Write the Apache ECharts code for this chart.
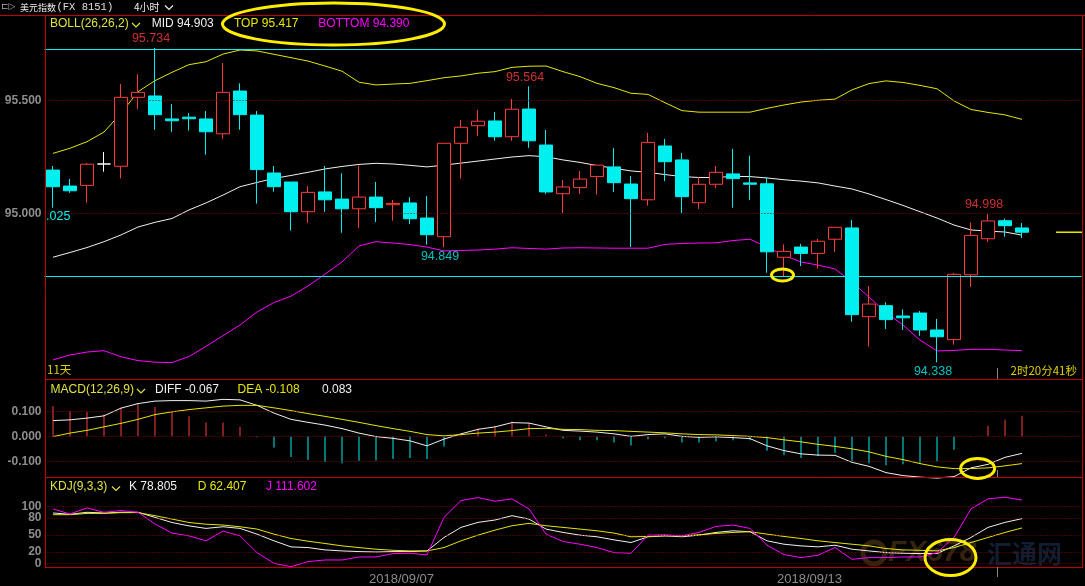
<!DOCTYPE html>
<html><head><meta charset="utf-8">
<script src="https://cdn.jsdelivr.net/npm/echarts@6/dist/echarts.min.js"></script>
<style>html,body{margin:0;padding:0;background:#000;}#c{width:1085px;height:586px;}</style>
</head><body><div id="c"></div>
<script>
// ---------- DATA ----------
const slotCount = 61; // 58 candles + 3 empty slots on the right
const opens  = [95.192,95.121,95.124,95.219,95.209,95.515,95.521,95.419,95.427,95.419,95.353,95.543,95.436,95.179,95.139,95.007,95.095,95.063,95.020,95.072,95.038,95.046,94.979,94.896,95.311,95.389,95.410,95.340,95.463,95.303,95.087,95.114,95.163,95.206,95.130,95.060,95.299,95.237,95.047,95.129,95.175,95.135,95.131,94.805,94.850,94.822,94.885,94.935,94.541,94.590,94.544,94.557,94.482,94.439,94.727,94.887,94.967,94.935];
const closes = [95.118,95.100,95.218,95.219,95.515,95.537,95.438,95.411,95.420,95.362,95.537,95.438,95.194,95.118,95.007,95.093,95.060,95.020,95.072,95.025,95.044,94.976,94.905,95.311,95.382,95.409,95.340,95.462,95.322,95.095,95.117,95.152,95.214,95.136,95.065,95.315,95.229,95.074,95.129,95.182,95.154,95.129,94.829,94.831,94.822,94.876,94.938,94.550,94.597,94.528,94.536,94.482,94.452,94.729,94.902,94.966,94.945,94.916];
const lows   = [95.025,95.091,95.047,95.185,95.155,95.464,95.371,95.362,95.367,95.260,95.331,95.371,95.043,95.096,94.923,94.958,95.007,94.914,94.936,94.961,94.967,94.952,94.861,94.849,95.154,95.343,95.322,95.322,95.291,95.086,95.001,95.086,95.083,95.095,94.850,95.034,95.143,95.001,95.020,95.112,95.025,95.059,94.736,94.718,94.766,94.754,94.829,94.519,94.408,94.486,94.482,94.456,94.338,94.417,94.674,94.873,94.896,94.890];
const highs  = [95.210,95.152,95.223,95.272,95.574,95.618,95.734,95.485,95.445,95.454,95.667,95.577,95.454,95.210,95.139,95.121,95.210,95.178,95.210,95.139,95.059,95.072,95.077,95.311,95.414,95.459,95.450,95.508,95.564,95.370,95.148,95.188,95.214,95.290,95.166,95.357,95.330,95.268,95.161,95.210,95.286,95.256,95.161,94.862,94.864,94.886,94.938,94.970,94.677,94.605,94.574,94.566,94.531,94.735,94.960,94.998,94.976,94.957];

const bollUpper = [95.266,95.289,95.318,95.361,95.444,95.540,95.589,95.626,95.660,95.673,95.707,95.725,95.721,95.706,95.691,95.676,95.654,95.631,95.582,95.570,95.574,95.577,95.589,95.602,95.610,95.622,95.629,95.648,95.653,95.654,95.629,95.607,95.577,95.558,95.533,95.528,95.491,95.456,95.449,95.449,95.449,95.449,95.466,95.481,95.494,95.502,95.507,95.548,95.576,95.588,95.581,95.568,95.553,95.499,95.461,95.448,95.437,95.417];
const bollMid   = [94.805,94.826,94.848,94.874,94.904,94.939,94.960,94.977,95.015,95.046,95.081,95.118,95.137,95.155,95.168,95.182,95.197,95.208,95.217,95.222,95.219,95.213,95.206,95.214,95.223,95.232,95.241,95.250,95.256,95.251,95.237,95.226,95.212,95.200,95.188,95.182,95.172,95.163,95.159,95.159,95.164,95.163,95.157,95.149,95.143,95.135,95.121,95.108,95.086,95.061,95.035,95.007,94.979,94.948,94.926,94.921,94.917,94.903];
const bollLower = [94.349,94.371,94.384,94.390,94.363,94.346,94.339,94.337,94.364,94.409,94.457,94.504,94.562,94.604,94.632,94.677,94.730,94.784,94.855,94.874,94.868,94.861,94.850,94.833,94.835,94.837,94.841,94.847,94.844,94.841,94.846,94.847,94.846,94.845,94.845,94.845,94.862,94.866,94.868,94.869,94.879,94.885,94.850,94.813,94.784,94.770,94.753,94.695,94.628,94.560,94.504,94.437,94.389,94.391,94.396,94.396,94.393,94.390];

const macdDiff = [0.064,0.067,0.074,0.083,0.114,0.132,0.142,0.144,0.144,0.142,0.149,0.147,0.125,0.094,0.069,0.057,0.046,0.032,0.014,0.000,-0.007,-0.017,-0.037,-0.010,0.011,0.029,0.039,0.056,0.054,0.039,0.025,0.022,0.018,0.011,0.001,0.008,0.011,0.001,-0.003,-0.001,-0.004,-0.008,-0.037,-0.056,-0.069,-0.074,-0.075,-0.103,-0.119,-0.144,-0.156,-0.162,-0.166,-0.160,-0.125,-0.111,-0.083,-0.067];
const macdDea  = [0.000,0.014,0.025,0.039,0.053,0.069,0.088,0.099,0.108,0.115,0.122,0.125,0.125,0.115,0.104,0.092,0.081,0.069,0.057,0.044,0.032,0.021,0.008,0.003,0.008,0.014,0.018,0.024,0.032,0.033,0.029,0.028,0.025,0.024,0.021,0.018,0.015,0.011,0.008,0.007,0.004,0.001,-0.004,-0.013,-0.021,-0.031,-0.039,-0.049,-0.061,-0.079,-0.092,-0.108,-0.121,-0.128,-0.128,-0.125,-0.117,-0.108];
const macdHist = [0.122,0.101,0.099,0.089,0.115,0.133,0.118,0.099,0.081,0.056,0.056,0.039,-0.003,-0.044,-0.082,-0.094,-0.101,-0.107,-0.097,-0.096,-0.090,-0.086,-0.090,-0.040,0.004,0.032,0.042,0.060,0.053,0.008,-0.007,-0.015,-0.015,-0.024,-0.036,-0.011,-0.007,-0.024,-0.024,-0.019,-0.015,-0.015,-0.057,-0.074,-0.086,-0.078,-0.065,-0.099,-0.107,-0.115,-0.111,-0.107,-0.099,-0.053,0.002,0.043,0.068,0.083];

const kdjK = [88.8,86.4,90,88.8,90,90,81,72,66,61.6,64.5,61.6,51.5,39.7,29,27.8,23.7,21.9,20.7,20,20.7,20.7,21.9,45.6,63.4,72.2,76.4,84,78,60.4,54.5,49.7,46.8,41.4,36.7,46.8,48.5,46.8,49.7,54.5,57.4,55.7,39.7,33.7,30.8,29,32,24.9,21.9,18.9,17.8,17.2,17.2,30.8,45.6,63.4,72.2,78.805];
const kdjD = [85.8,85.8,88,88,89.4,89.4,84,78,72,69,67.5,64.5,60.4,51.5,43.8,39,35,30.8,27.8,24.9,23,21.9,21.9,27.8,39.7,49.7,58.6,66.3,70.5,66.3,63.4,60.4,57.4,53.3,46.8,47.4,48.5,48.5,50.3,52.7,54.5,55.7,51.5,47.4,43.8,39.7,36.7,33.7,30.8,26.1,23.7,23,21.9,27.8,36.7,45.6,54.5,62.407];
const kdjJ = [95.9,87,97.7,90,93,90,69.3,53.3,48.5,39.7,56.8,48.5,18.9,0,-5.9,3,5.9,5.9,11.2,11.2,17.2,17.8,14.8,81.1,110.7,116,109.5,113.7,95.9,51.5,38.5,33.7,27.8,18.9,17.8,49.7,50.3,48.5,54.5,65.1,67.5,61.6,32,15.4,10.1,14.2,27.8,7.1,10.1,10.1,11.2,11.2,18.9,45.6,95.9,113.7,116.6,111.602];

const priceTicks = [95.0, 95.5];
const macdTicks  = [-0.1, 0, 0.1];
const kdjTicks   = [0, 20, 50, 80, 100];
const dateLabels = ['2018/09/07', '2018/09/13'];
const dateLabelIndex = [20, 44];
const highMarkIdx = [6, 28, 55];
const lowMarkIdx  = [23, 52];
const levelLines  = [95.734, 94.720];

// ---------- STYLE ----------
const RED = '#ff3c3c', CYAN = '#00f0f0', YEL = '#e6e600', MAG = '#ff00ff', WHITE = '#f0f0f0';
const BORDER = '#c00000', GRID = '#8a0000', AXIS = '#8c8c8c';
const LAT = '"Liberation Sans", Arial, sans-serif';
const CJK = '"Noto Sans CJK SC", sans-serif';
const DOTS = [1, 2];

const cats = Array.from({length: slotCount}, (_, i) => String(i));
const last = a => a[a.length - 1];
const fmt3 = v => v.toFixed(3);

const chart = echarts.init(document.getElementById('c'));

const G0 = {left: 44.5, top: 48, width: 1037, height: 314.4};
const G1 = {left: 44.5, top: 394.1, width: 1037, height: 85};
const G2 = {left: 44.5, top: 492.45, width: 1037, height: 78.57};

const tickLabelStyle = {color: AXIS, fontWeight: 'bold', fontSize: 12, fontFamily: LAT};

// dotted grid lines; optionally carrying their own left-side tick labels
function gridLines(vals, withLabels) {
  return { symbol: 'none', silent: true, animation: false,
    label: withLabels ? Object.assign({show: true, position: 'start', distance: 3, formatter: p => String(p.value)}, tickLabelStyle) : {show: false},
    lineStyle: {color: GRID, type: DOTS, width: 1},
    data: vals.map(v => ({yAxis: v})) };
}
function yAx(gi, min, max, ticks, f) {
  return { type: 'value', gridIndex: gi, min, max, scale: true,
    axisLine: {show: false}, axisTick: {show: false}, splitLine: {show: false},
    axisLabel: ticks ? Object.assign({customValues: ticks, formatter: f, margin: 3}, tickLabelStyle) : {show: false} };
}
function xAx(gi, showLabel) {
  return { type: 'category', gridIndex: gi, data: cats, boundaryGap: true,
    axisLine: {show: false}, axisTick: {show: false}, splitLine: {show: false},
    axisLabel: showLabel ? {
      interval: 0, color: AXIS, fontSize: 13, fontFamily: LAT, margin: 4, padding: [0, 0, 0, 17],
      formatter: (v, idx) => { const k = dateLabelIndex.indexOf(idx); return k >= 0 ? dateLabels[k] : ''; }
    } : {show: false} };
}
function line(data, color, xi, yi, z) {
  return { type: 'line', xAxisIndex: xi, yAxisIndex: yi, data, symbol: 'none', showSymbol: false,
    lineStyle: {color, width: 1}, z: z || 3, silent: true };
}
function T(x, y, text, fill, font, align) {
  return { type: 'text', z: 50, style: {x, y, text, fill, font, textAlign: align || 'left', textVerticalAlign: 'middle'} };
}
function chevron(x, y, color) {
  return { type: 'polyline', z: 50, shape: {points: [[x, y - 2.5], [x + 4, y + 1.5], [x + 8, y - 2.5]]}, style: {stroke: color, lineWidth: 1.2, fill: 'none'} };
}
function hline(x1, x2, y, color, w) {
  return { type: 'line', z: 40, shape: {x1, y1: y, x2, y2: y}, style: {stroke: color, lineWidth: w || 1} };
}
function vline(x, y1, y2, color, w) {
  return { type: 'line', z: 40, shape: {x1: x, y1, x2: x, y2}, style: {stroke: color, lineWidth: w || 1} };
}
function ell(cx, cy, rx, ry) {
  return { type: 'ellipse', z: 45, shape: {cx, cy, rx, ry}, style: {fill: 'none', stroke: '#ffee00', lineWidth: 3} };
}

const markData = highMarkIdx.map(i => ({value: [i, highs[i]], label: {position: 'top', color: RED}}))
  .concat(lowMarkIdx.map(i => ({value: [i, lows[i]], label: {position: 'bottom', color: CYAN}})));

const staticGraphic = [
  // watermark
  { type: 'circle', z: 1, shape: {cx: 874, cy: 553, r: 11}, style: {fill: 'none', stroke: '#33240f', lineWidth: 5} },
  { type: 'text', z: 1, style: {x: 888, y: 553, text: 'FX678', fill: '#33240f', font: 'italic bold 30px ' + LAT, textVerticalAlign: 'middle'} },
  { type: 'text', z: 1, style: {x: 987, y: 553, text: '汇通网', fill: '#111d30', font: 'bold 25px ' + CJK, textVerticalAlign: 'middle'} },
  // borders
  hline(0, 1085, 15.5, BORDER),
  vline(45.5, 15, 568, BORDER),
  vline(1082.5, 15, 568, BORDER),
  hline(45, 1083, 379.5, BORDER),
  hline(45, 1083, 477.5, BORDER),
  hline(45, 1083, 567.5, BORDER),
  // header
  T(1, 7, '⊏▷', '#b0b0b0', '9px "DejaVu Sans"'),
  T(20, 7.5, '美元指数', '#eeeeee', '9px ' + CJK),
  T(56.5, 7.5, '(FX 8151)', '#e0e0e0', '10.5px "Liberation Mono", monospace'),
  T(134, 7.5, '4小时', '#eeeeee', '10px ' + CJK),
  chevron(165, 8, '#eeeeee'),
  // price legend
  T(50, 23.5, 'BOLL(26,26,2)', '#e0e040', '12px ' + LAT),
  chevron(132, 25.5, '#e0e040'),
  T(151.7, 23.5, 'MID ' + fmt3(last(bollMid)), WHITE, '12px ' + LAT),
  T(234, 23.5, 'TOP ' + fmt3(last(bollUpper)), YEL, '12px ' + LAT),
  T(318.3, 23.5, 'BOTTOM ' + fmt3(last(bollLower)), MAG, '12px ' + LAT),
  // MACD legend
  T(50.6, 389.5, 'MACD(12,26,9)', '#e0e040', '12px ' + LAT),
  chevron(137, 391.5, '#e0e040'),
  T(155, 389.5, 'DIFF ' + fmt3(last(macdDiff)), WHITE, '12px ' + LAT),
  T(237.6, 389.5, 'DEA ' + fmt3(last(macdDea)), YEL, '12px ' + LAT),
  T(322, 389.5, fmt3(last(macdHist)), WHITE, '12px ' + LAT),
  // KDJ legend
  T(50, 487, 'KDJ(9,3,3)', '#e0e040', '12px ' + LAT),
  chevron(112, 489, '#e0e040'),
  T(129, 487, 'K ' + fmt3(last(kdjK)), WHITE, '12px ' + LAT),
  T(197.7, 487, 'D ' + fmt3(last(kdjD)), YEL, '12px ' + LAT),
  T(266, 487, 'J ' + fmt3(last(kdjJ)), MAG, '12px ' + LAT),
  // bottom texts of price panel
  T(47, 370, '11天', '#e0d000', '11.5px ' + CJK),
  T(1077, 370.5, '2时20分41秒', '#e0d000', '11.5px ' + CJK, 'right'),
  // annotations
  ell(333.5, 24, 111, 21),
  ell(782.5, 275, 11, 6),
  ell(977.6, 468.5, 17, 10),
  ell(950.5, 557.5, 25.5, 18)
];

const option = {
  backgroundColor: '#000',
  animation: false,
  grid: [G0, G1, G2],
  xAxis: [xAx(0, false), xAx(1, false), xAx(2, true)],
  yAxis: [
    yAx(0, Math.min(...lows), Math.max(...highs), priceTicks, v => v.toFixed(3)),
    yAx(1, -0.17, 0.17, macdTicks, v => v.toFixed(3)),
    yAx(2, -10, 125, null, null)
  ],
  series: [
    { type: 'candlestick', xAxisIndex: 0, yAxisIndex: 0, barWidth: 14, clip: false, z: 4, silent: true,
      data: opens.map((o, i) => [o, closes[i], lows[i], highs[i]]),
      itemStyle: {color: '#000', color0: CYAN, borderColor: RED, borderColor0: CYAN, borderColorDoji: '#ffffff', borderWidth: 1},
      markLine: { symbol: 'none', silent: true, animation: false, label: {show: false},
        data: priceTicks.map(v => ({yAxis: v, lineStyle: {color: GRID, type: DOTS, width: 1}}))
          .concat(levelLines.map(v => ({yAxis: v, lineStyle: {color: CYAN, type: 'solid', width: 1}}))) } },
    line(bollUpper, YEL, 0, 0),
    line(bollMid, WHITE, 0, 0),
    line(bollLower, MAG, 0, 0),
    { type: 'scatter', xAxisIndex: 0, yAxisIndex: 0, symbolSize: 0, z: 6, silent: true, data: markData,
      label: {show: true, formatter: p => fmt3(p.value[1]), fontSize: 12.5, fontFamily: LAT, distance: 2, lineHeight: 14, offset: [-4, 0]} },
    { type: 'bar', xAxisIndex: 1, yAxisIndex: 1, data: macdHist, barWidth: 1, silent: true,
      itemStyle: {color: p => p.value >= 0 ? RED : CYAN}, markLine: gridLines(macdTicks, false) },
    line(macdDiff, WHITE, 1, 1),
    line(macdDea, YEL, 1, 1),
    Object.assign(line(kdjK, WHITE, 2, 2), {markLine: gridLines(kdjTicks, true)}),
    line(kdjD, YEL, 2, 2),
    line(kdjJ, MAG, 2, 2)
  ],
  graphic: staticGraphic
};
chart.setOption(option);

// data-driven decorations placed through the chart's own scales
const yClose = chart.convertToPixel({yAxisIndex: 0}, last(closes));
const yLow0 = chart.convertToPixel({yAxisIndex: 0}, lows[0]);
const xB = (chart.convertToPixel({xAxisIndex: 0}, 55) + chart.convertToPixel({xAxisIndex: 0}, 56)) / 2;
const xLastSlot = chart.convertToPixel({xAxisIndex: 0}, slotCount - 2);
chart.setOption({ graphic: staticGraphic.concat([
  hline(xLastSlot, 1082, yClose, YEL, 1.5),
  T(46, yLow0 + 9, fmt3(lows[0]).slice(2), CYAN, '12.5px ' + LAT),
  vline(Math.round(xB) + 0.5, 368, 379, '#888888'),
  vline(Math.round(xB) + 0.5, 470, 477, '#888888'),
  vline(Math.round(xB) + 0.5, 567, 577, '#888888')
]) }, {replaceMerge: ['graphic']});
</script>
</body></html>
